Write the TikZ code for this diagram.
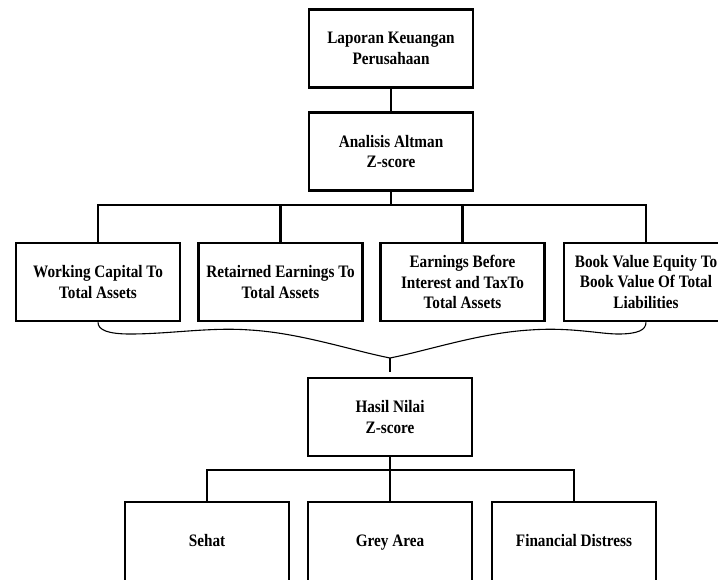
\documentclass[tikz,border=0pt]{standalone}
\usepackage{fontspec}
\setmainfont{Liberation Serif}[FakeStretch=0.87]

\tikzset{
  box/.style={draw, line width=2.6pt, minimum width=164pt, minimum height=78pt,
    inner sep=0pt, align=center, font=\fontsize{17.5}{20.5}\selectfont\bfseries},
  leaf/.style={box, minimum height=80pt, text height=12pt, text depth=4pt},
  link/.style={line width=2.6pt},
  brace line/.style={line width=1.1pt}
}

\begin{document}
\begin{tikzpicture}[x=1pt,y=-1pt]
\clip (0,0) rectangle (718,579);

\node[box] (lap) at (391,48.5) {Laporan Keuangan\\Perusahaan};
\node[box] (alt) at (391,151.5) {Analisis Altman\\Z-score};

\node[box] (wca) at (98,282) {Working Capital To\\Total Assets};
\node[box] (rea) at (280.5,282) {Retairned Earnings To\\Total Assets};
\node[box] (ebit) at (462.5,282) {Earnings Before\\Interest and TaxTo\\Total Assets};
\node[box] (bve) at (646,282) {Book Value Equity To\\Book Value Of Total\\Liabilities};

\node[box] (hasil) at (390,417) {Hasil Nilai\\Z-score};

\node[leaf] (sehat) at (207,542) {Sehat};
\node[leaf] (grey) at (390,542) {Grey Area};
\node[leaf] (fin) at (574,542) {Financial Distress};

% tree lines
\coordinate (fork) at (391,205);
\draw[link] (lap) -- (alt);
\draw[link] (alt) -- (fork);
\foreach \n in {wca,rea,ebit,bve}
  \draw[link] (fork) -| (\n.north);

% brace from the four ratios
\coordinate (joint) at (390,358);
\draw[brace line] (wca.south) .. controls (98,330) and (108,334) .. (130,334)
  .. controls (170,334) and (210,327) .. (250,330)
  .. controls (300,333) and (350,350) .. (joint)
  .. controls (430,350) and (480,333) .. (530,330)
  .. controls (570,327) and (600,334) .. (618,334)
  .. controls (638,334) and (646,330) .. (bve.south);
\draw[line width=1.8pt] (joint) -- ([yshift=5pt]hasil.north);

\coordinate (fork2) at (390,470);
\draw[link] (hasil) -- (fork2);
\foreach \n in {sehat,grey,fin}
  \draw[link] (fork2) -| (\n.north);
\end{tikzpicture}
\end{document}
